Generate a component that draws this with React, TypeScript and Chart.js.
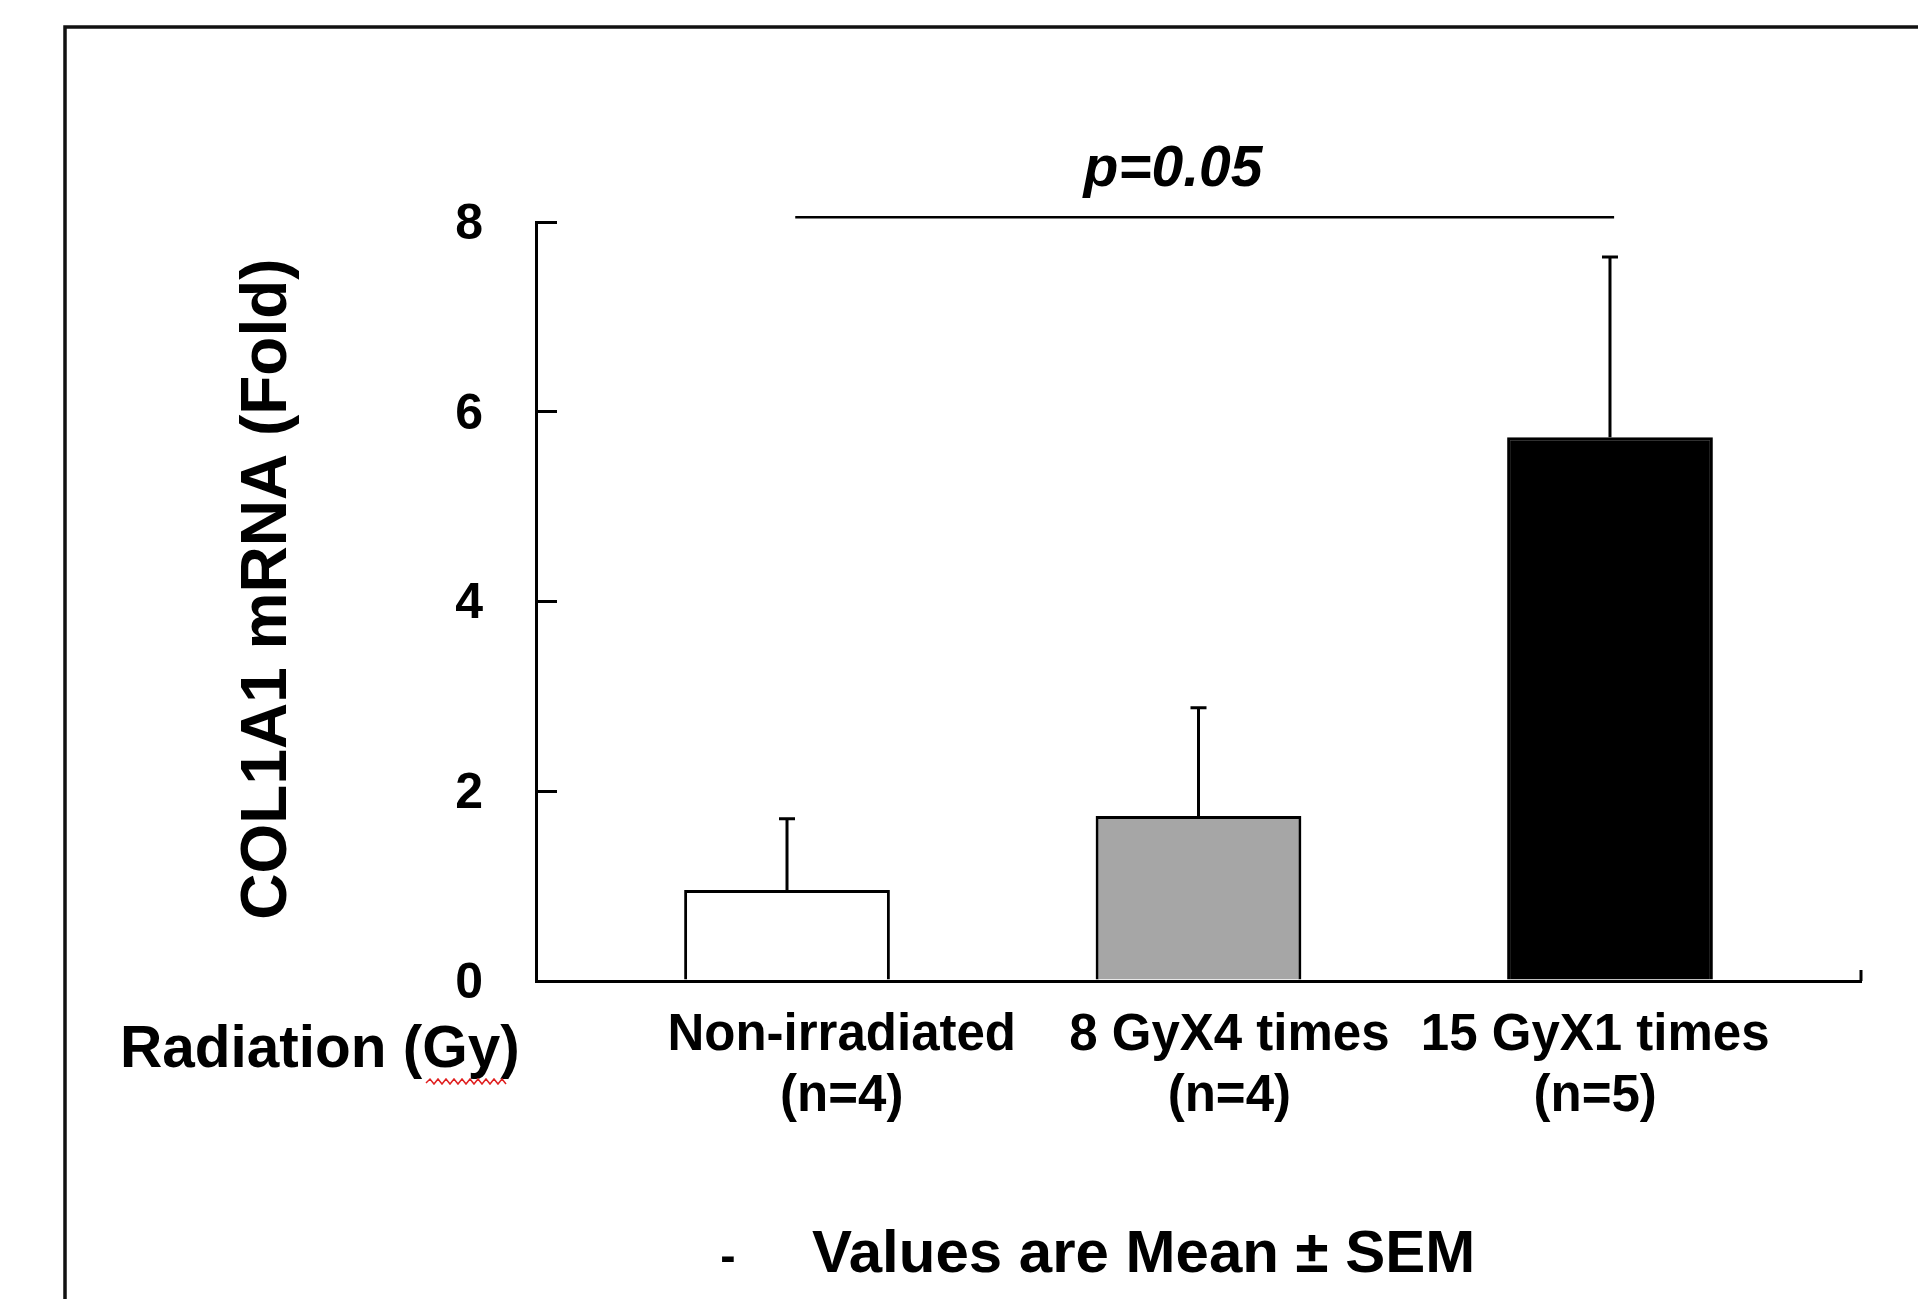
import React, { useEffect, useRef } from 'react';
import { Chart, registerables } from 'chart.js';

Chart.register(...registerables);

// ---------- data ----------
const categories = ['Non-irradiated', '8 GyX4 times', '15 GyX1 times'];
const groupSizes = ['(n=4)', '(n=4)', '(n=5)'];
const means = [0.96, 1.74, 5.73];
const sems = [0.75, 1.14, 1.9];
const barColors = ['#ffffff', '#a6a6a6', '#000000'];
const yTicks = [0, 2, 4, 6, 8];
const yTitle = 'COL1A1 mRNA (Fold)';
const rowLabel = 'Radiation (Gy)';
const footNote = 'Values are Mean \u00B1 SEM';
const pValueText = 'p=0.05';
const sigFromIndex = 0.02;
const sigToIndex = 2.01;
const sigLevel = 8.05;

const FONT = '"Liberation Sans", Arial, Helvetica, sans-serif';
const W = 1918;
const H = 1299;

export default function App() {
  const ref = useRef<HTMLCanvasElement | null>(null);

  useEffect(() => {
    const canvas = ref.current;
    if (!canvas) return;

    const framePlugin = {
      id: 'frame',
      beforeDraw(chart: any) {
        const { ctx } = chart;
        ctx.save();
        ctx.fillStyle = '#ffffff';
        ctx.fillRect(0, 0, chart.width, chart.height);
        ctx.strokeStyle = '#111111';
        ctx.lineWidth = 3.5;
        ctx.beginPath();
        ctx.moveTo(65, H + 5);
        ctx.lineTo(65, 27);
        ctx.lineTo(W + 5, 27);
        ctx.stroke();
        ctx.restore();
      },
    };

    const errorBarPlugin = {
      id: 'errorBars',
      afterDatasetsDraw(chart: any) {
        const { ctx } = chart;
        const yScale = chart.scales.y;
        const meta = chart.getDatasetMeta(0);
        ctx.save();
        ctx.strokeStyle = '#000000';
        ctx.lineWidth = 3;
        meta.data.forEach((el: any, i: number) => {
          const top = yScale.getPixelForValue(means[i] + sems[i]);
          ctx.beginPath();
          ctx.moveTo(el.x, el.y);
          ctx.lineTo(el.x, top);
          ctx.moveTo(el.x - 8, top);
          ctx.lineTo(el.x + 8, top);
          ctx.stroke();
        });
        ctx.restore();
      },
    };

    const annotationPlugin = {
      id: 'annotations',
      afterDraw(chart: any) {
        const { ctx } = chart;
        const xs = chart.scales.x;
        const ys = chart.scales.y;
        ctx.save();
        // significance bar
        const sy = ys.getPixelForValue(sigLevel);
        ctx.strokeStyle = '#000000';
        ctx.lineWidth = 2.5;
        ctx.beginPath();
        ctx.moveTo(xs.getPixelForValue(sigFromIndex), sy);
        ctx.lineTo(xs.getPixelForValue(sigToIndex), sy);
        ctx.stroke();

        // small end tick of the x axis
        ctx.lineWidth = 3;
        ctx.beginPath();
        ctx.moveTo(xs.right, ys.bottom);
        ctx.lineTo(xs.right, ys.bottom - 11);
        ctx.stroke();

        ctx.fillStyle = '#000000';

        // y-axis title
        ctx.save();
        ctx.translate(268, 589);
        ctx.rotate(-Math.PI / 2);
        ctx.font = `bold 64px ${FONT}`;
        ctx.textAlign = 'center';
        ctx.textBaseline = 'middle';
        ctx.fillText(yTitle, 0, 0);
        ctx.restore();

        ctx.font = `italic bold 57px ${FONT}`;
        ctx.textAlign = 'center';
        ctx.textBaseline = 'alphabetic';
        ctx.fillText(pValueText, 1173, 186);

        ctx.font = `bold 58.5px ${FONT}`;
        ctx.textAlign = 'left';
        ctx.textBaseline = 'middle';
        ctx.fillText(rowLabel, 120, 1051);

        // spell-check squiggle under "Gy"
        ctx.strokeStyle = '#e02020';
        ctx.lineWidth = 1.5;
        ctx.beginPath();
        let up = true;
        ctx.moveTo(426, 1083);
        for (let x = 430; x <= 508; x += 4) {
          ctx.lineTo(x, up ? 1079 : 1084);
          up = !up;
        }
        ctx.stroke();

        ctx.font = `bold 46px ${FONT}`;
        ctx.textAlign = 'center';
        ctx.fillText('-', 728, 1258);
        ctx.font = `bold 60px ${FONT}`;
        ctx.textAlign = 'left';
        ctx.fillText(footNote, 812, 1255);
        ctx.restore();
      },
    };

    const chart = new Chart(canvas, {
      type: 'bar',
      data: {
        datasets: [
          {
            data: means.map((m, i) => ({ x: i, y: m })),
            backgroundColor: barColors,
            borderColor: '#000000',
            borderWidth: 3,
            borderSkipped: 'start',
            categoryPercentage: 1,
            barPercentage: 0.5,
            xAxisID: 'x',
            yAxisID: 'y',
          },
        ],
      },
      options: {
        animation: false,
        responsive: false,
        devicePixelRatio: 1,
        layout: { padding: { left: 0, right: 57, top: 222, bottom: 0 } },
        plugins: {
          legend: { display: false },
          tooltip: { enabled: false },
          title: { display: false },
        },
        scales: {
          x: {
            type: 'linear',
            position: 'bottom',
            min: -0.61,
            max: 2.61,
            offset: false,
            weight: 0,
            afterBuildTicks: (s: any) => {
              s.ticks = categories.map((_, i) => ({ value: i }));
            },
            afterFit: (s: any) => {
              s.height = 0;
            },
            ticks: { display: false },
            grid: { display: false, drawTicks: false },
            border: { display: true, color: '#000000', width: 3 },
          },
          xl: {
            type: 'linear',
            position: 'bottom',
            min: -0.61,
            max: 2.61,
            offset: false,
            weight: 1,
            afterBuildTicks: (s: any) => {
              const labelAt = [0.133, 1.075, 1.964];
              s.ticks = labelAt.map((v) => ({ value: v }));
            },
            afterFit: (s: any) => {
              s.height = H - 981;
            },
            ticks: {
              autoSkip: false,
              maxRotation: 0,
              minRotation: 0,
              padding: 24,
              color: '#000000',
              font: { family: FONT, size: 51, weight: 'bold', lineHeight: 1.2 },
              callback: (_v: any, i: number) => [categories[i], groupSizes[i]],
            },
            grid: { display: false, drawTicks: false },
            border: { display: false },
          },
          y: {
            type: 'linear',
            position: 'left',
            min: 0,
            max: 8,
            afterBuildTicks: (s: any) => {
              s.ticks = yTicks.map((v) => ({ value: v }));
            },
            afterFit: (s: any) => {
              s.width = 536;
            },
            ticks: {
              padding: 74,
              labelOffset: 3,
              color: '#000000',
              font: { family: FONT, size: 50, weight: 'bold' },
            },
            grid: {
              display: true,
              drawOnChartArea: false,
              drawTicks: true,
              tickLength: -21,
              tickWidth: 3,
              tickColor: '#000000',
              lineWidth: 3,
              color: '#000000',
            },
            border: { display: true, color: '#000000', width: 3 },
            title: { display: false, text: yTitle },
          },
        },
      } as any,
      plugins: [framePlugin, errorBarPlugin, annotationPlugin],
    });

    return () => {
      chart.destroy();
    };
  }, []);

  return (
    <div style={{ position: 'absolute', left: 0, top: 0, width: W, height: H, background: '#fff' }}>
      <canvas ref={ref} width={W} height={H} style={{ width: W, height: H, display: 'block' }} />
    </div>
  );
}
